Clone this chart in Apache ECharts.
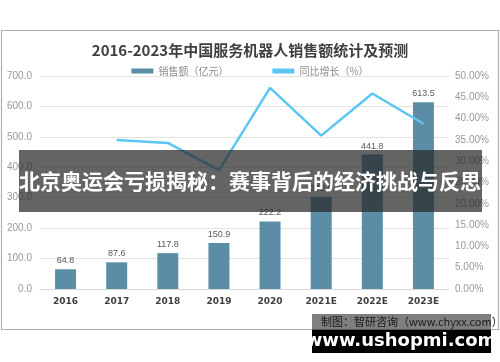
<!DOCTYPE html>
<html><head><meta charset="utf-8">
<script src="https://cdn.jsdelivr.net/npm/echarts@6/dist/echarts.min.js"></script>
<style>html,body{margin:0;padding:0;background:#fff}#c{width:500px;height:362px}</style>
</head><body><div id="c"></div>
<script>
const categories = ['2016','2017','2018','2019','2020','2021E','2022E','2023E'];
const sales = [64.8, 87.6, 117.8, 150.9, 222.2, 302.8, 441.8, 613.5];
const growth = [null, 35.0, 34.3, 27.9, 47.2, 36.0, 45.9, 38.8];
const leftTicks = {min: 0, max: 700, interval: 100};
const rightTicks = {min: 0, max: 50, interval: 5};

const chart = echarts.init(document.getElementById('c'), null, {renderer: 'canvas'});
chart.setOption({
  animation: false,
  title: {
    text: '2016-2023年中国服务机器人销售额统计及预测',
    left: 'center', top: 38,
    textStyle: {fontSize: 15, fontWeight: 'bold', color: '#404040', fontFamily: 'Noto Sans CJK SC'}
  },
  legend: {
    top: 61, left: 'center', itemGap: 44,
    textStyle: {fontSize: 10, color: '#8c8c8c', fontFamily: 'Noto Sans CJK SC'},
    data: [
      {name: '销售额（亿元）', icon: 'rect', itemStyle: {color: '#5b8ea6'}},
      {name: '同比增长（%）', icon: 'rect'}
    ],
    itemWidth: 22, itemHeight: 5
  },
  grid: {left: 40, right: 51, top: 76, bottom: 73},
  xAxis: {
    type: 'category', data: categories,
    axisLine: {show: true, lineStyle: {color: '#d9d9d9'}},
    axisTick: {show: false},
    axisLabel: {fontSize: 9, fontWeight: 'bold', color: '#404040', margin: 8, fontFamily: 'DejaVu Sans'}
  },
  yAxis: [
    {type: 'value', min: leftTicks.min, max: leftTicks.max, interval: leftTicks.interval,
     axisLabel: {fontSize: 10, color: '#999', formatter: v => v.toFixed(1), margin: 8, fontFamily: 'Liberation Sans'},
     splitLine: {lineStyle: {color: '#e3e3e3'}}, axisLine: {show: false}, axisTick: {show: false}},
    {type: 'value', min: rightTicks.min, max: rightTicks.max, interval: rightTicks.interval,
     axisLabel: {fontSize: 10, color: '#999', formatter: v => v.toFixed(2) + '%', margin: 6, fontFamily: 'Liberation Sans'},
     splitLine: {show: false}, axisLine: {show: false}, axisTick: {show: false}}
  ],
  series: [
    {name: '销售额（亿元）', type: 'bar', data: sales, barWidth: 21,
     itemStyle: {color: '#5b8ea6'},
     label: {show: true, position: 'top', fontSize: 9, color: '#595959', distance: 4, fontFamily: 'Liberation Sans'}},
    {name: '同比增长（%）', type: 'line', yAxisIndex: 1, data: growth,
     symbol: 'none', lineStyle: {color: '#5cc6f2', width: 2.5}, itemStyle: {color: '#5cc6f2'}}
  ],
  graphic: [
    {type: 'rect', shape: {x: 1.5, y: 30.5, width: 497, height: 299}, style: {fill: 'none', stroke: '#b0b0b0', lineWidth: 1.2}, z: 50},
    {type: 'rect', shape: {x: 19, y: 150, width: 463, height: 62}, style: {fill: 'rgba(40,40,40,0.72)'}, z: 100},
    {type: 'text', x: 250, y: 181, style: {text: '北京奥运会亏损揭秘：赛事背后的经济挑战与反思', fill: '#fff', font: 'bold 21px "Noto Sans CJK SC"', textAlign: 'center', textVerticalAlign: 'middle'}, z: 101},
    {type: 'rect', shape: {x: 312, y: 314, width: 179, height: 16}, style: {fill: 'rgba(0,0,0,0.5)'}, z: 100},
    {type: 'rect', shape: {x: 312, y: 330, width: 179, height: 23}, style: {fill: '#000'}, z: 100},
    {type: 'text', x: 321, y: 322, style: {text: '制图：智研咨询（www.chyxx.com）', fill: '#1a1a1a', font: '11px "Noto Sans CJK SC"', textAlign: 'left', textVerticalAlign: 'middle'}, z: 101},
    {type: 'text', x: 401, y: 341, style: {text: 'www.ushopmi.com', fill: '#fff', font: 'bold 18px "DejaVu Sans"', textAlign: 'center', textVerticalAlign: 'middle'}, z: 101}
  ]
});
</script></body></html>
